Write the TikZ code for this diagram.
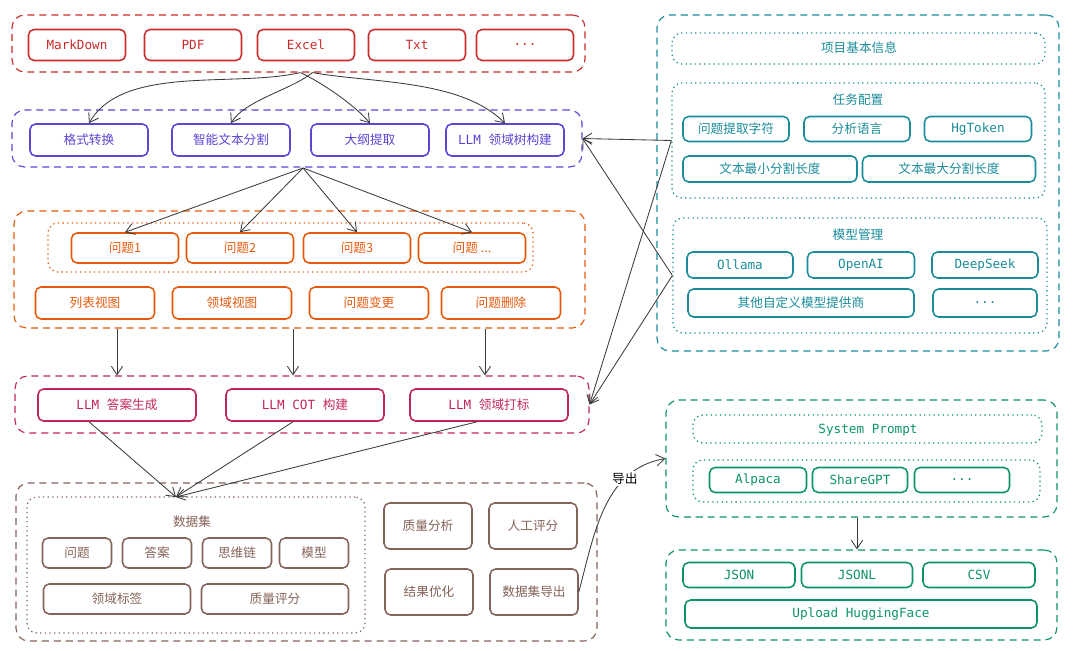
\documentclass[tikz,border=0pt]{standalone}
\usepackage{fontspec}
\setmainfont{Noto Sans CJK SC}
\newfontfamily\codefont{DejaVu Sans Mono}
\usepackage{xcolor}
\usetikzlibrary{arrows.meta,positioning,fit}
\definecolor{srcred}{HTML}{C92A2A}
\definecolor{procblue}{HTML}{5B45D6}
\definecolor{qorange}{HTML}{E8590C}
\definecolor{llmpink}{HTML}{C2255C}
\definecolor{setbrown}{HTML}{846358}
\definecolor{cfgteal}{HTML}{1A8C99}
\definecolor{outgreen}{HTML}{0C9268}
\definecolor{linegray}{HTML}{3A3A3A}
\tikzset{
  sz/.style 2 args={minimum width=#1*0.025cm, minimum height=#2*0.025cm},
  card/.style={draw=#1, text=#1, rounded corners=4pt, line width=1.1pt, inner sep=0pt, font=\fontsize{9}{11}\selectfont},
  groupbox/.style={draw=#1, dash pattern=on 5pt off 3.5pt, rounded corners=9pt, line width=0.8pt, inner sep=0pt},
  subgroup/.style={draw=#1, dash pattern=on 0.9pt off 2.4pt, rounded corners=7pt, line width=0.9pt, inner sep=0pt},
  grouptitle/.style={text=#1, font=\fontsize{9}{11}\selectfont, inner sep=1pt},
  flow/.style={linegray, -{Straight Barb[length=6pt,width=8pt]}, line width=0.6pt}
}

\begin{document}
\begin{tikzpicture}[x=0.025cm,y=-0.025cm]
  \useasboundingbox (0,0) rectangle (1080,651);
  \node[groupbox=srcred, fit={(12,15) (585,72)}] (srcgroup) {};
  \node[card=srcred, sz={97}{31}] (md) at (77,45) {{\codefont MarkDown}};
  \node[card=srcred, sz={97}{31}] (pdf) at (193,45) {{\codefont PDF}};
  \node[card=srcred, sz={97}{31}] (excel) at (306,45) {{\codefont Excel}};
  \node[card=srcred, sz={97}{31}] (txt) at (417,45) {{\codefont Txt}};
  \node[card=srcred, sz={97}{31}] (more) at (525,45) {{\codefont ...}};

  \node[groupbox=procblue, fit={(12,110) (582,167)}] (procgroup) {};
  \node[card=procblue, sz={118}{32}] (fmt) at (89,140) {格式转换};
  \node[card=procblue, sz={118}{32}] (split) at (231,140) {智能文本分割};
  \node[card=procblue, sz={118}{32}] (outline) at (370,140) {大纲提取};
  \node[card=procblue, sz={118}{32}] (tree) at (505,140) {{\codefont LLM }领域树构建};

  \node[groupbox=qorange, fit={(14,211) (585,328)}] (qgroup) {};
  \node[subgroup=qorange, fit={(48,223) (533,272)}] (qlist) {};
  \node[card=qorange, sz={107}{30}] (q1) at (125,248) {问题1};
  \node[card=qorange, sz={107}{30}] (q2) at (240,248) {问题2};
  \node[card=qorange, sz={107}{30}] (q3) at (357,248) {问题3};
  \node[card=qorange, sz={107}{30}] (qn) at (472,248) {问题 ...};
  \node[card=qorange, sz={119}{32}] (listview) at (95,303) {列表视图};
  \node[card=qorange, sz={119}{32}] (domview) at (232,303) {领域视图};
  \node[card=qorange, sz={119}{32}] (qedit) at (369,303) {问题变更};
  \node[card=qorange, sz={119}{32}] (qdel) at (501,303) {问题删除};

  \node[groupbox=llmpink, fit={(15,376) (589,433)}] (llmgroup) {};
  \node[card=llmpink, sz={158}{32}] (ans) at (117,405) {{\codefont LLM }答案生成};
  \node[card=llmpink, sz={158}{32}] (cot) at (305,405) {{\codefont LLM COT }构建};
  \node[card=llmpink, sz={158}{32}] (tag) at (489,405) {{\codefont LLM }领域打标};

  \node[groupbox=setbrown, fit={(16,483) (597,641)}] (setgroup) {};
  \node[subgroup=setbrown, fit={(27,497) (365,633)}] (dataset) {};
  \node[grouptitle=setbrown] (settitle) at (192,522) {数据集};
  \node[card=setbrown, sz={69}{30}] (fq) at (77,553) {问题};
  \node[card=setbrown, sz={69}{30}] (fa) at (157,553) {答案};
  \node[card=setbrown, sz={69}{30}] (fc) at (237,553) {思维链};
  \node[card=setbrown, sz={69}{30}] (fm) at (314,553) {模型};
  \node[card=setbrown, sz={147}{30}] (fd) at (117,599) {领域标签};
  \node[card=setbrown, sz={147}{30}] (fs) at (275,599) {质量评分};
  \node[card=setbrown, sz={88}{46}] (qa) at (428,526) {质量分析};
  \node[card=setbrown, sz={88}{46}] (manual) at (533,526) {人工评分};
  \node[card=setbrown, sz={88}{46}] (optim) at (429,592) {结果优化};
  \node[card=setbrown, sz={88}{46}] (export) at (534,592) {数据集导出};

  \node[groupbox=cfgteal, fit={(657,15) (1059,351)}] (cfggroup) {};
  \node[subgroup=cfgteal, fit={(672,33) (1045,64)}] (info) {};
  \node[grouptitle=cfgteal] (infotitle) at (859,48) {项目基本信息};
  \node[subgroup=cfgteal, fit={(672,83) (1045,198)}] (task) {};
  \node[grouptitle=cfgteal] (tasktitle) at (858,100) {任务配置};
  \node[card=cfgteal, sz={106}{25}] (qchar) at (736,129) {问题提取字符};
  \node[card=cfgteal, sz={106}{25}] (lang) at (857,129) {分析语言};
  \node[card=cfgteal, sz={107}{25}] (hg) at (978,129) {{\codefont HgToken}};
  \node[card=cfgteal, sz={174}{26}] (minlen) at (770,169) {文本最小分割长度};
  \node[card=cfgteal, sz={173}{26}] (maxlen) at (949,169) {文本最大分割长度};
  \node[subgroup=cfgteal, fit={(673,218) (1047,333)}] (models) {};
  \node[grouptitle=cfgteal] (modeltitle) at (858,235) {模型管理};
  \node[card=cfgteal, sz={106}{26}] (ollama) at (740,265) {{\codefont Ollama}};
  \node[card=cfgteal, sz={107}{26}] (openai) at (861,265) {{\codefont OpenAI}};
  \node[card=cfgteal, sz={106}{26}] (deepseek) at (985,265) {{\codefont DeepSeek}};
  \node[card=cfgteal, sz={226}{28}] (custom) at (801,303) {其他自定义模型提供商};
  \node[card=cfgteal, sz={104}{28}] (moremodel) at (985,303) {{\codefont ...}};

  \node[groupbox=outgreen, fit={(666,400) (1057,517)}] (tplgroup) {};
  \node[subgroup=outgreen, fit={(693,415) (1042,443)}] (prompt) {};
  \node[grouptitle=outgreen] (prompttitle) at (868,430) {{\codefont System Prompt}};
  \node[subgroup=outgreen, fit={(693,460) (1040,502)}] (tpllist) {};
  \node[card=outgreen, sz={97}{25}] (alpaca) at (758,480) {{\codefont Alpaca}};
  \node[card=outgreen, sz={95}{25}] (sharegpt) at (860,480) {{\codefont ShareGPT}};
  \node[card=outgreen, sz={95}{25}] (moretpl) at (962,480) {{\codefont ...}};

  \node[groupbox=outgreen, fit={(666,550) (1057,640)}] (filegroup) {};
  \node[card=outgreen, sz={112}{25}] (json) at (739,575) {{\codefont JSON}};
  \node[card=outgreen, sz={111}{25}] (jsonl) at (857,575) {{\codefont JSONL}};
  \node[card=outgreen, sz={112}{25}] (csv) at (979,575) {{\codefont CSV}};
  \node[card=outgreen, sz={352}{28}] (hf) at (861,614) {{\codefont Upload HuggingFace}};

  \coordinate (srcout) at ([xshift=-4]srcgroup.south -| excel);
  \coordinate (procout) at (303,168);
  \coordinate (setin) at (176,497);
  \draw[flow] (srcout) to[out=193,in=60,looseness=0.8] (fmt.north);
  \draw[flow] ([xshift=0.3cm]srcout) to[out=220,in=60,looseness=0.7] (split.north);
  \draw[flow] (srcout) to[out=-25,in=130,looseness=0.7] (outline.north);
  \draw[flow] ([xshift=0.3cm]srcout) to[out=-10,in=135,looseness=0.8] (tree.north);
  \draw[flow] (procout) -- (q1.north);
  \draw[flow] (procout) -- (q2.north);
  \draw[flow] (procout) -- (q3.north);
  \draw[flow] (procout) -- (qn.north);
  \draw[flow] (qgroup.south -| ans) -- (llmgroup.north -| ans);
  \draw[flow] ([xshift=-0.3cm]qgroup.south -| cot) -- ([xshift=-0.3cm]llmgroup.north -| cot);
  \draw[flow] ([xshift=-0.1cm]qgroup.south -| tag) -- ([xshift=-0.1cm]llmgroup.north -| tag);
  \draw[flow] ([xshift=-0.7cm]ans.south) -- (setin);
  \draw[flow] ([xshift=-0.3cm]cot.south) -- (setin);
  \draw[flow] ([xshift=-0.3cm]tag.south) -- (setin);
  \draw[flow] (task.west) -- (procgroup.east);
  \draw[flow] (models.west) -- (procgroup.east);
  \draw[flow] (task.west) -- (llmgroup.east);
  \draw[flow] (models.west) -- (llmgroup.east);
  \draw[flow] (export.east) to[out=75,in=190] node[pos=0.72, fill=white, inner sep=1pt, font=\fontsize{9}{11}\selectfont, text=black] {导出} (tplgroup.west);
  \draw[flow] (tplgroup.south -| jsonl) -- (filegroup.north -| jsonl);
\end{tikzpicture}
\end{document}
